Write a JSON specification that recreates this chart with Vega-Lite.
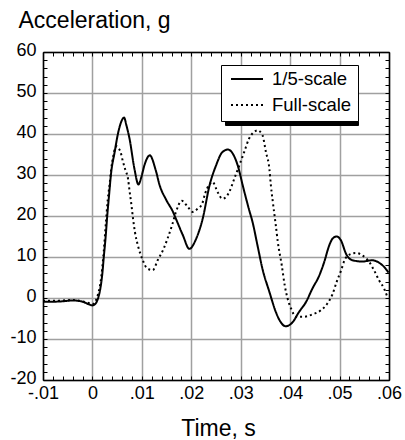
{
  "$schema": "https://vega.github.io/schema/vega-lite/v6.json",
  "width": 346,
  "height": 328,
  "autosize": "none",
  "padding": {"left": 43, "top": 52, "right": 16, "bottom": 60},
  "background": "white",
  "config": {
    "font": "Liberation Sans",
    "view": {"stroke": null}
  },
  "data": {
    "values": [
      {"t": -0.01, "g": -0.9, "series": "1/5-scale"},
      {"t": -0.008, "g": -0.9, "series": "1/5-scale"},
      {"t": -0.006, "g": -0.8, "series": "1/5-scale"},
      {"t": -0.004, "g": -0.6, "series": "1/5-scale"},
      {"t": -0.002, "g": -0.9, "series": "1/5-scale"},
      {"t": -0.0006, "g": -1.6, "series": "1/5-scale"},
      {"t": 0.0, "g": -1.8, "series": "1/5-scale"},
      {"t": 0.00044, "g": -1.6, "series": "1/5-scale"},
      {"t": 0.0011, "g": -0.2, "series": "1/5-scale"},
      {"t": 0.0016, "g": 2.3, "series": "1/5-scale"},
      {"t": 0.002, "g": 5.9, "series": "1/5-scale"},
      {"t": 0.0023, "g": 10, "series": "1/5-scale"},
      {"t": 0.0027, "g": 15.3, "series": "1/5-scale"},
      {"t": 0.003, "g": 20.1, "series": "1/5-scale"},
      {"t": 0.0033, "g": 24.2, "series": "1/5-scale"},
      {"t": 0.0038, "g": 30.7, "series": "1/5-scale"},
      {"t": 0.0045, "g": 35.6, "series": "1/5-scale"},
      {"t": 0.0051, "g": 39.7, "series": "1/5-scale"},
      {"t": 0.0058, "g": 42.9, "series": "1/5-scale"},
      {"t": 0.0064, "g": 44, "series": "1/5-scale"},
      {"t": 0.0069, "g": 42, "series": "1/5-scale"},
      {"t": 0.0075, "g": 38.9, "series": "1/5-scale"},
      {"t": 0.0085, "g": 31.5, "series": "1/5-scale"},
      {"t": 0.0093, "g": 27.7, "series": "1/5-scale"},
      {"t": 0.0099, "g": 29.5, "series": "1/5-scale"},
      {"t": 0.0105, "g": 32.3, "series": "1/5-scale"},
      {"t": 0.0116, "g": 34.8, "series": "1/5-scale"},
      {"t": 0.0128, "g": 31.2, "series": "1/5-scale"},
      {"t": 0.0136, "g": 27.5, "series": "1/5-scale"},
      {"t": 0.0149, "g": 24, "series": "1/5-scale"},
      {"t": 0.0163, "g": 21, "series": "1/5-scale"},
      {"t": 0.0169, "g": 19.3, "series": "1/5-scale"},
      {"t": 0.0183, "g": 15.3, "series": "1/5-scale"},
      {"t": 0.0196, "g": 12, "series": "1/5-scale"},
      {"t": 0.021, "g": 14.5, "series": "1/5-scale"},
      {"t": 0.0223, "g": 19.3, "series": "1/5-scale"},
      {"t": 0.0237, "g": 27.5, "series": "1/5-scale"},
      {"t": 0.025, "g": 32.3, "series": "1/5-scale"},
      {"t": 0.0263, "g": 35.6, "series": "1/5-scale"},
      {"t": 0.0274, "g": 36.2, "series": "1/5-scale"},
      {"t": 0.0284, "g": 35.2, "series": "1/5-scale"},
      {"t": 0.0294, "g": 32.3, "series": "1/5-scale"},
      {"t": 0.0304, "g": 27.5, "series": "1/5-scale"},
      {"t": 0.0311, "g": 24.2, "series": "1/5-scale"},
      {"t": 0.0317, "g": 21.5, "series": "1/5-scale"},
      {"t": 0.0324, "g": 18.5, "series": "1/5-scale"},
      {"t": 0.0334, "g": 12.8, "series": "1/5-scale"},
      {"t": 0.0344, "g": 7.1, "series": "1/5-scale"},
      {"t": 0.0358, "g": 1.5, "series": "1/5-scale"},
      {"t": 0.0371, "g": -3.4, "series": "1/5-scale"},
      {"t": 0.0381, "g": -5.9, "series": "1/5-scale"},
      {"t": 0.0391, "g": -6.9, "series": "1/5-scale"},
      {"t": 0.0405, "g": -5.9, "series": "1/5-scale"},
      {"t": 0.0418, "g": -3.4, "series": "1/5-scale"},
      {"t": 0.0432, "g": -1, "series": "1/5-scale"},
      {"t": 0.0445, "g": 2.3, "series": "1/5-scale"},
      {"t": 0.0459, "g": 5.5, "series": "1/5-scale"},
      {"t": 0.0469, "g": 8.8, "series": "1/5-scale"},
      {"t": 0.0479, "g": 12.8, "series": "1/5-scale"},
      {"t": 0.0486, "g": 14.5, "series": "1/5-scale"},
      {"t": 0.0494, "g": 15, "series": "1/5-scale"},
      {"t": 0.0503, "g": 14, "series": "1/5-scale"},
      {"t": 0.0513, "g": 10.8, "series": "1/5-scale"},
      {"t": 0.0526, "g": 9.2, "series": "1/5-scale"},
      {"t": 0.0546, "g": 8.9, "series": "1/5-scale"},
      {"t": 0.0566, "g": 9.2, "series": "1/5-scale"},
      {"t": 0.058, "g": 8.6, "series": "1/5-scale"},
      {"t": 0.059, "g": 7.6, "series": "1/5-scale"},
      {"t": 0.0599, "g": 6.2, "series": "1/5-scale"},
      {"t": -0.01, "g": -0.7, "series": "Full-scale"},
      {"t": -0.008, "g": -0.7, "series": "Full-scale"},
      {"t": -0.006, "g": -0.6, "series": "Full-scale"},
      {"t": -0.004, "g": -0.5, "series": "Full-scale"},
      {"t": -0.002, "g": -0.8, "series": "Full-scale"},
      {"t": -0.0006, "g": -1.3, "series": "Full-scale"},
      {"t": 0.0, "g": -1.5, "series": "Full-scale"},
      {"t": 0.00044, "g": -1.1, "series": "Full-scale"},
      {"t": 0.0011, "g": 0.8, "series": "Full-scale"},
      {"t": 0.0016, "g": 3.5, "series": "Full-scale"},
      {"t": 0.002, "g": 7.5, "series": "Full-scale"},
      {"t": 0.0023, "g": 11.5, "series": "Full-scale"},
      {"t": 0.0027, "g": 18, "series": "Full-scale"},
      {"t": 0.0031, "g": 24, "series": "Full-scale"},
      {"t": 0.0035, "g": 28, "series": "Full-scale"},
      {"t": 0.0038, "g": 31.5, "series": "Full-scale"},
      {"t": 0.0042, "g": 34.5, "series": "Full-scale"},
      {"t": 0.0046, "g": 36.6, "series": "Full-scale"},
      {"t": 0.0049, "g": 37, "series": "Full-scale"},
      {"t": 0.0053, "g": 36.5, "series": "Full-scale"},
      {"t": 0.0057, "g": 35.6, "series": "Full-scale"},
      {"t": 0.0061, "g": 33.6, "series": "Full-scale"},
      {"t": 0.0067, "g": 31.1, "series": "Full-scale"},
      {"t": 0.0072, "g": 29.1, "series": "Full-scale"},
      {"t": 0.0075, "g": 26.2, "series": "Full-scale"},
      {"t": 0.0079, "g": 22.6, "series": "Full-scale"},
      {"t": 0.0082, "g": 19.5, "series": "Full-scale"},
      {"t": 0.0086, "g": 16.1, "series": "Full-scale"},
      {"t": 0.0092, "g": 12.8, "series": "Full-scale"},
      {"t": 0.0102, "g": 9.2, "series": "Full-scale"},
      {"t": 0.011, "g": 7.3, "series": "Full-scale"},
      {"t": 0.0122, "g": 6.8, "series": "Full-scale"},
      {"t": 0.0132, "g": 9.2, "series": "Full-scale"},
      {"t": 0.0144, "g": 12, "series": "Full-scale"},
      {"t": 0.0152, "g": 14.5, "series": "Full-scale"},
      {"t": 0.0162, "g": 18.1, "series": "Full-scale"},
      {"t": 0.0169, "g": 21, "series": "Full-scale"},
      {"t": 0.0181, "g": 23.7, "series": "Full-scale"},
      {"t": 0.0193, "g": 22.2, "series": "Full-scale"},
      {"t": 0.0203, "g": 21, "series": "Full-scale"},
      {"t": 0.0213, "g": 21.8, "series": "Full-scale"},
      {"t": 0.0222, "g": 23, "series": "Full-scale"},
      {"t": 0.0228, "g": 25.5, "series": "Full-scale"},
      {"t": 0.0236, "g": 27.6, "series": "Full-scale"},
      {"t": 0.0243, "g": 28.3, "series": "Full-scale"},
      {"t": 0.0253, "g": 25.9, "series": "Full-scale"},
      {"t": 0.0263, "g": 24.2, "series": "Full-scale"},
      {"t": 0.027, "g": 24.6, "series": "Full-scale"},
      {"t": 0.0277, "g": 25.9, "series": "Full-scale"},
      {"t": 0.0287, "g": 29.1, "series": "Full-scale"},
      {"t": 0.0297, "g": 32.3, "series": "Full-scale"},
      {"t": 0.0307, "g": 35.6, "series": "Full-scale"},
      {"t": 0.0317, "g": 38.9, "series": "Full-scale"},
      {"t": 0.0327, "g": 40.5, "series": "Full-scale"},
      {"t": 0.0334, "g": 40.9, "series": "Full-scale"},
      {"t": 0.0344, "g": 39.7, "series": "Full-scale"},
      {"t": 0.0351, "g": 35.6, "series": "Full-scale"},
      {"t": 0.0358, "g": 31.5, "series": "Full-scale"},
      {"t": 0.0361, "g": 27.5, "series": "Full-scale"},
      {"t": 0.0365, "g": 23.4, "series": "Full-scale"},
      {"t": 0.0371, "g": 17.7, "series": "Full-scale"},
      {"t": 0.0375, "g": 13.7, "series": "Full-scale"},
      {"t": 0.0383, "g": 8, "series": "Full-scale"},
      {"t": 0.0389, "g": 3.1, "series": "Full-scale"},
      {"t": 0.0395, "g": -0.2, "series": "Full-scale"},
      {"t": 0.0402, "g": -2.6, "series": "Full-scale"},
      {"t": 0.0412, "g": -4.6, "series": "Full-scale"},
      {"t": 0.0425, "g": -4.6, "series": "Full-scale"},
      {"t": 0.0445, "g": -4, "series": "Full-scale"},
      {"t": 0.0462, "g": -3, "series": "Full-scale"},
      {"t": 0.0475, "g": -1.4, "series": "Full-scale"},
      {"t": 0.0486, "g": 1, "series": "Full-scale"},
      {"t": 0.0494, "g": 3.9, "series": "Full-scale"},
      {"t": 0.0503, "g": 6.7, "series": "Full-scale"},
      {"t": 0.051, "g": 9.2, "series": "Full-scale"},
      {"t": 0.052, "g": 10.6, "series": "Full-scale"},
      {"t": 0.0533, "g": 11, "series": "Full-scale"},
      {"t": 0.0546, "g": 10.4, "series": "Full-scale"},
      {"t": 0.056, "g": 8.8, "series": "Full-scale"},
      {"t": 0.057, "g": 6.7, "series": "Full-scale"},
      {"t": 0.058, "g": 4.3, "series": "Full-scale"},
      {"t": 0.059, "g": 2.3, "series": "Full-scale"},
      {"t": 0.0597, "g": 0.2, "series": "Full-scale"}
    ]
  },
  "layer": [
    {
      "transform": [{"filter": "datum.series == '1/5-scale'"}],
      "mark": {"type": "line", "color": "black", "strokeWidth": 2, "interpolate": "monotone"},
      "encoding": {
        "x": {
          "field": "t", "type": "quantitative",
          "scale": {"domain": [-0.01, 0.06], "nice": false, "zero": false},
          "axis": {
            "orient": "bottom",
            "values": [-0.01, -0.008, -0.006, -0.004, -0.002, 0, 0.002, 0.004, 0.006, 0.008, 0.01, 0.012, 0.014, 0.016, 0.018, 0.02, 0.022, 0.024, 0.026, 0.028, 0.03, 0.032, 0.034, 0.036, 0.038, 0.04, 0.042, 0.044, 0.046, 0.048, 0.05, 0.052, 0.054, 0.056, 0.058, 0.06],
            "labelExpr": "abs(datum.value*100 - round(datum.value*100)) < 0.001 ? (datum.value == 0 ? '0' : (datum.value < 0 ? '-' : '') + '.' + format(round(abs(datum.value)*100), '02d')) : ''",
            "labelOverlap": false,
            "labelFlush": false,
            "labelFontSize": 18,
            "labelColor": "black",
            "labelBaseline": "top",
            "labelPadding": 8,
            "tickSize": -4,
            "tickColor": "black",
            "tickWidth": 1,
            "grid": true,
            "gridColor": "#a0a0a0",
            "gridWidth": 1.5,
            "gridOpacity": {"condition": {"test": "abs(datum.value*100 - round(datum.value*100)) < 0.001", "value": 1}, "value": 0},
            "domain": true,
            "domainColor": "black",
            "domainWidth": 1.5,
            "title": "Time, s",
            "titleFontSize": 23,
            "titleFontWeight": "normal",
            "titleColor": "black",
            "titleAlign": "center",
            "titleBaseline": "alphabetic",
            "titleX": 175,
            "titleY": 55
          }
        },
        "y": {
          "field": "g", "type": "quantitative",
          "scale": {"domain": [-20, 60], "nice": false, "zero": false},
          "axis": {
            "orient": "left",
            "values": [-20, -18, -16, -14, -12, -10, -8, -6, -4, -2, 0, 2, 4, 6, 8, 10, 12, 14, 16, 18, 20, 22, 24, 26, 28, 30, 32, 34, 36, 38, 40, 42, 44, 46, 48, 50, 52, 54, 56, 58, 60],
            "labelExpr": "datum.value % 10 == 0 ? (datum.value < 0 ? '-' + abs(datum.value) : '' + datum.value) : ''",
            "labelOverlap": false,
            "labelFlush": false,
            "labelFontSize": 18,
            "labelColor": "black",
            "labelBaseline": "middle",
            "labelPadding": 11,
            "labelOffset": -2,
            "tickSize": -4,
            "tickColor": "black",
            "tickWidth": 1,
            "grid": true,
            "gridColor": "#a0a0a0",
            "gridWidth": 1.5,
            "gridOpacity": {"condition": {"test": "datum.value % 10 == 0", "value": 1}, "value": 0},
            "domain": true,
            "domainColor": "black",
            "domainWidth": 1.5,
            "title": "Acceleration, g",
            "titleFontSize": 23,
            "titleFontWeight": "normal",
            "titleColor": "black",
            "titleAngle": 0,
            "titleAlign": "left",
            "titleBaseline": "alphabetic",
            "titleX": -25,
            "titleY": -25
          }
        },
        "strokeDash": {
          "field": "series", "type": "nominal",
          "scale": {"domain": ["1/5-scale", "Full-scale"], "range": [[1, 0], [2, 3]]},
          "legend": {
            "title": null,
            "orient": "none",
            "legendX": 178,
            "legendY": 13,
            "symbolType": "stroke",
            "symbolSize": 1024,
            "symbolStrokeWidth": 2,
            "symbolStrokeColor": "black",
            "clipHeight": 16,
            "rowPadding": 7,
            "labelOffset": 8,
            "symbolOffset": 3,
            "padding": 6,
            "labelFontSize": 18.5,
            "labelColor": "black",
            "fillColor": "white",
            "strokeColor": "black",
            "zindex": 2
          }
        },
        "opacity": {
          "field": "series", "type": "ordinal",
          "scale": {"domain": ["Full-scale", "1/5-scale"], "range": [1, 1]},
          "legend": {
            "title": null,
            "orient": "none",
            "legendX": 182,
            "legendY": 17,
            "symbolType": "stroke",
            "symbolSize": 14161,
            "symbolStrokeWidth": 2,
            "symbolStrokeColor": "black",
            "symbolFillColor": "black",
            "clipHeight": 16,
            "rowPadding": 7,
            "labelOffset": 0,
            "symbolOffset": 0,
            "padding": 6,
            "labelExpr": "''",
            "labelFontSize": 18.5,
            "fillColor": "black",
            "strokeColor": "black",
            "zindex": 1
          }
        }
      }
    },
    {
      "transform": [{"filter": "datum.series == 'Full-scale'"}],
      "mark": {"type": "line", "color": "black", "strokeWidth": 2, "interpolate": "monotone", "strokeCap": "butt"},
      "encoding": {
        "x": {
          "field": "t", "type": "quantitative",
          "axis": {
            "orient": "top",
            "values": [-0.01, -0.008, -0.006, -0.004, -0.002, 0, 0.002, 0.004, 0.006, 0.008, 0.01, 0.012, 0.014, 0.016, 0.018, 0.02, 0.022, 0.024, 0.026, 0.028, 0.03, 0.032, 0.034, 0.036, 0.038, 0.04, 0.042, 0.044, 0.046, 0.048, 0.05, 0.052, 0.054, 0.056, 0.058, 0.06],
            "labels": false,
            "tickSize": -4,
            "tickColor": "black",
            "tickWidth": 1,
            "grid": false,
            "domain": true,
            "domainColor": "black",
            "domainWidth": 1.5,
            "title": null
          }
        },
        "y": {
          "field": "g", "type": "quantitative",
          "axis": {
            "orient": "right",
            "values": [-20, -18, -16, -14, -12, -10, -8, -6, -4, -2, 0, 2, 4, 6, 8, 10, 12, 14, 16, 18, 20, 22, 24, 26, 28, 30, 32, 34, 36, 38, 40, 42, 44, 46, 48, 50, 52, 54, 56, 58, 60],
            "labels": false,
            "tickSize": -4,
            "tickColor": "black",
            "tickWidth": 1,
            "grid": false,
            "domain": true,
            "domainColor": "black",
            "domainWidth": 1.5,
            "title": null
          }
        },
        "strokeDash": {"field": "series", "type": "nominal"},
        "opacity": {"field": "series", "type": "ordinal"}
      }
    }
  ],
  "resolve": {"axis": {"x": "independent", "y": "independent"}}
}
